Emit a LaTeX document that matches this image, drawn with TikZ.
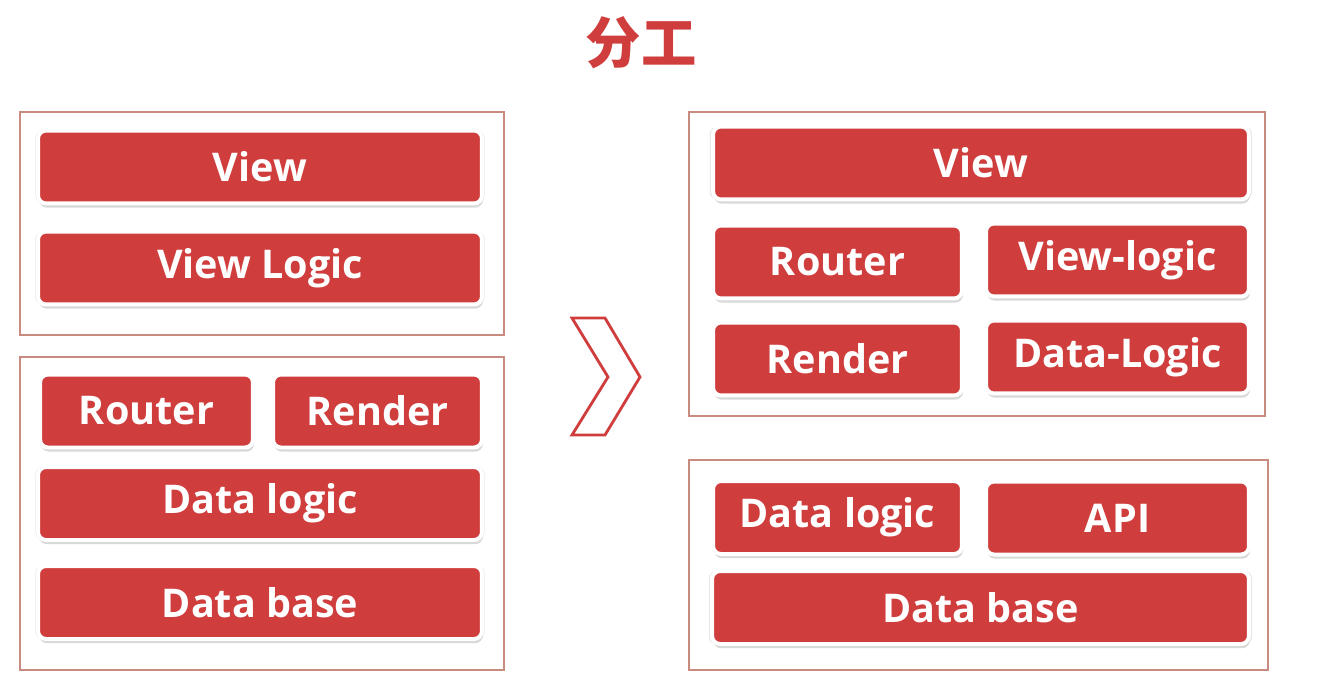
\documentclass[tikz,border=0pt]{standalone}
\usepackage{fontspec}
\setmainfont{Open Sans}
\newfontfamily\cjkfont{Noto Sans CJK SC}
\usetikzlibrary{shadows}

\definecolor{boxred}{HTML}{D03D3D}
\definecolor{framered}{HTML}{C98A80}

\tikzset{
    blk/.style={rectangle, rounded corners=0.16cm, fill=boxred, draw=white,
        line width=0.08cm, text=white, inner sep=0pt,
        font=\bfseries\fontsize{22.5}{27}\selectfont,
        minimum width=#1, minimum height=1.46cm,
        drop shadow={opacity=0.18, shadow xshift=0pt, shadow yshift=0pt, shadow scale=1.012},
        drop shadow={opacity=0.3, shadow xshift=0.6pt, shadow yshift=-2.4pt}},
    frm/.style={draw=framered, line width=0.9pt},
    chev/.style={draw=boxred, line width=1.6pt, line join=miter}
}

\begin{document}
\begin{tikzpicture}[x=0.02cm, y=-0.02cm]

            \useasboundingbox[fill=white] (0,0) rectangle (1322,683);

            % Title

            \node[text=boxred, font=\cjkfont\bfseries\fontsize{31.5}{36}\selectfont] (title) at (641,43) {分工};

            % Frames

            \draw[frm] (20,112) rectangle (504,335);
            \draw[frm] (20,357) rectangle (504,670);
            \draw[frm] (689,112) rectangle (1265,416);
            \draw[frm] (689,460) rectangle (1268,670);

            % Left blocks

            \node[blk=8.88cm] (lview) at (260,167) {View};
            \node[blk=8.88cm] (lviewlogic) at (260,268) {View Logic};
            \node[blk=4.26cm] (lrouter) at (146.5,411) {Router};
            \node[blk=4.18cm] (lrender) at (377.5,411) {Render};
            \node[blk=8.88cm] (ldatalogic) at (260,503.5) {Data logic};
            \node[blk=8.88cm] (ldatabase) at (260,602.5) {Data base};

            % Arrow

            \draw[chev] (572,318) -- (605,318) -- (640,377) -- (605,435) -- (572,435) -- (608,377) -- cycle;

            % Right blocks

            \node[blk=10.72cm] (rview) at (981,163) {View};
            \node[blk=4.98cm] (rrouter) at (837.5,262) {Router};
            \node[blk=5.26cm] (rviewlogic) at (1117.5,260) {View-logic};
            \node[blk=4.98cm] (rrender) at (837.5,359) {Render};
            \node[blk=5.26cm] (rdatalogic) at (1117.5,357) {Data-Logic};
            \node[blk=4.98cm] (rdlogic) at (837.5,517.5) {Data logic};
            \node[blk=5.26cm] (rapi) at (1117.5,518) {API};
            \node[blk=10.74cm] (rdatabase) at (980.5,607.5) {Data base};

\end{tikzpicture}
\end{document}
